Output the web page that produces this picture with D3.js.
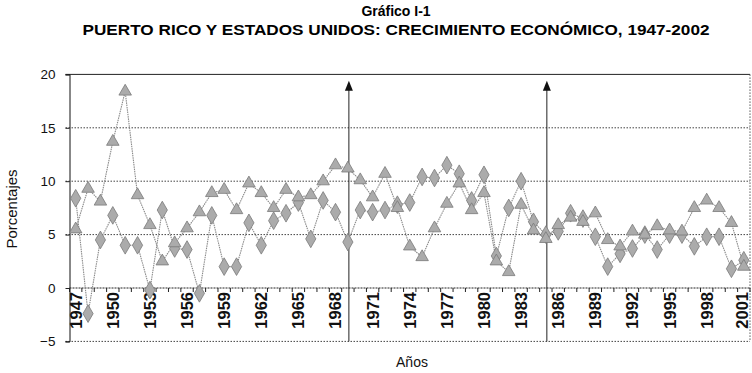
<!DOCTYPE html>
<html>
<head>
<meta charset="utf-8">
<script src="https://cdn.jsdelivr.net/npm/d3@7"></script>
<style>
  html, body { margin: 0; padding: 0; background: #fff; }
  svg { display: block; font-family: "Liberation Sans", Arial, sans-serif; }
</style>
</head>
<body>
<svg id="chart" width="752" height="373"></svg>
<script>
// Años de la serie
const years = d3.range(1947, 2002);

// Serie 1 (rombos), tasa de crecimiento anual, %
const serieRombos = [
  8.4, -2.4, 4.5, 6.8, 4.0, 4.0, -0.2, 7.3, 3.7, 3.6,
  -0.5, 6.8, 2.0, 2.0, 6.1, 4.0, 6.3, 7.0, 8.0, 4.6,
  8.2, 7.1, 4.3, 7.3, 7.1, 7.3, 7.8, 8.0, 10.4, 10.3,
  11.5, 10.7, 8.2, 10.6, 3.0, 7.5, 10.0, 6.2, 5.0, 5.3,
  7.0, 6.5, 4.8, 2.0, 3.2, 3.7, 5.0, 3.6, 5.0, 5.0,
  3.9, 4.8, 4.8, 1.8, 2.6
];

// Serie 2 (triángulos), tasa de crecimiento anual, %
const serieTriangulos = [
  5.5, 9.3, 8.1, 13.7, 18.4, 8.7, 5.9, 2.5, 4.2, 5.6,
  7.1, 8.9, 9.2, 7.3, 9.8, 8.9, 7.5, 9.2, 8.5, 8.7,
  10.0, 11.5, 11.2, 10.1, 8.5, 10.7, 7.5, 3.9, 2.9, 5.6,
  7.9, 9.8, 7.3, 8.9, 2.5, 1.5, 7.8, 5.4, 4.6, 5.9,
  6.6, 6.2, 7.0, 4.5, 3.9, 5.3, 5.0, 5.8, 5.4, 5.3,
  7.5, 8.2, 7.5, 6.1, 2.0
];

// Etiquetas del eje horizontal (cada tres años)
const xTickYears = d3.range(1947, 2002, 3);
// Marcas del eje vertical
const yTicks = [-5, 0, 5, 10, 15, 20];
// Años señalados con flecha
const arrowYears = [1969, 1985];
const arrowTop = 19.4;

const svg = d3.select("#chart");

const plot = { left: 69.5, right: 750, top: 74.4, bottom: 341.4 };

const x = d3.scaleBand().domain(years).range([plot.left, plot.right]).padding(0);
const cx = yr => x(yr) + x.bandwidth() / 2;
const y = d3.scaleLinear().domain([-5, 20]).range([plot.bottom, plot.top]);

// Títulos
svg.append("text")
  .attr("x", 396).attr("y", 16)
  .attr("text-anchor", "middle")
  .attr("font-size", 14).attr("font-weight", "bold")
  .text("Gráfico I-1");
svg.append("text")
  .attr("x", 396).attr("y", 35)
  .attr("text-anchor", "middle")
  .attr("font-size", 14.5).attr("font-weight", "bold")
  .attr("textLength", 627).attr("lengthAdjust", "spacingAndGlyphs")
  .text("PUERTO RICO Y ESTADOS UNIDOS: CRECIMIENTO ECONÓMICO, 1947-2002");

// Líneas de cuadrícula horizontales
const grid = svg.append("g");
grid.selectAll("line")
  .data(yTicks.filter(v => v !== 0))
  .join("line")
  .attr("x1", plot.left - 4).attr("x2", plot.right)
  .attr("y1", d => y(d)).attr("y2", d => y(d))
  .attr("stroke", d => d === 20 ? "#222" : "#444")
  .attr("stroke-width", 1)
  .attr("stroke-dasharray", d => d === 20 ? null : "1.5,1.5");

// Borde derecho
svg.append("line")
  .attr("x1", plot.right).attr("x2", plot.right)
  .attr("y1", plot.top).attr("y2", plot.bottom)
  .attr("stroke", "#555").attr("stroke-dasharray", "1.5,1.5");

// Eje vertical
const yAxis = svg.append("g")
  .attr("transform", `translate(${plot.left},0)`)
  .call(d3.axisLeft(y).tickValues(yTicks).tickSize(4).tickPadding(10).tickFormat(d3.format("d")));
yAxis.select(".domain").attr("stroke", "#111");
yAxis.selectAll(".tick line").attr("stroke", "#222");
yAxis.selectAll("text").attr("font-size", 13.5).attr("fill", "#111")
  .attr("font-family", "'Liberation Sans', Arial, sans-serif");

// Eje horizontal en el valor cero
const xAxis = svg.append("g")
  .attr("transform", `translate(0,${y(0)})`);
xAxis.append("line")
  .attr("x1", plot.left).attr("x2", plot.right)
  .attr("stroke", "#222").attr("stroke-dasharray", "2,1");
xAxis.selectAll("line.tick")
  .data(years.concat([2002]))
  .join("line")
  .attr("class", "tick")
  .attr("x1", d => d === 2002 ? plot.right : x(d))
  .attr("x2", d => d === 2002 ? plot.right : x(d))
  .attr("y1", 0).attr("y2", 4)
  .attr("stroke", "#222");
// Etiquetas verticales; la última se mantiene dentro del lienzo
xAxis.selectAll("text")
  .data(xTickYears)
  .join("text")
  .attr("transform", d => `translate(${Math.min(cx(d), 742)},4) rotate(-90)`)
  .attr("text-anchor", "end")
  .attr("dy", "0.36em")
  .attr("font-size", 16.5).attr("font-weight", "bold").attr("fill", "#111")
  .text(d => d);

// Flechas verticales
const arrows = svg.append("g");
arrowYears.forEach(yr => {
  const ax = cx(yr) + 1;
  arrows.append("line")
    .attr("x1", ax).attr("x2", ax)
    .attr("y1", plot.bottom).attr("y2", y(arrowTop) + 8)
    .attr("stroke", "#222").attr("stroke-width", 1);
  arrows.append("path")
    .attr("d", `M${ax},${y(arrowTop)} L${ax - 4},${y(arrowTop) + 10} L${ax + 4},${y(arrowTop) + 10} Z`)
    .attr("fill", "#111");
});

// Series
const series = [
  { values: serieRombos, symbol: d3.symbolDiamond, size: 90 },
  { values: serieTriangulos, symbol: d3.symbolTriangle, size: 68 }
];

const line = d3.line().x(d => cx(d.year)).y(d => y(d.value));

series.forEach(s => {
  const pts = years.map((yr, i) => ({ year: yr, value: s.values[i] }));
  svg.append("path")
    .datum(pts)
    .attr("d", line)
    .attr("fill", "none")
    .attr("stroke", "#8a8a8a")
    .attr("stroke-width", 1.1)
    .attr("stroke-dasharray", "1.5,0.8");
});

series.forEach(s => {
  const pts = years.map((yr, i) => ({ year: yr, value: s.values[i] }));
  svg.append("g").selectAll("path")
    .data(pts)
    .join("path")
    .attr("transform", d => `translate(${cx(d.year)},${y(d.value)})`)
    .attr("d", d3.symbol().type(s.symbol).size(s.size))
    .attr("fill", "#ababab")
    .attr("stroke", "#7a7a7a")
    .attr("stroke-width", 0.8);
});

// Rótulos de ejes
svg.append("text")
  .attr("transform", `translate(17,209) rotate(-90)`)
  .attr("text-anchor", "middle")
  .attr("font-size", 15).attr("fill", "#111")
  .text("Porcentajes");
svg.append("text")
  .attr("x", 412).attr("y", 367)
  .attr("text-anchor", "middle")
  .attr("font-size", 14).attr("fill", "#111")
  .text("Años");
</script>
</body>
</html>
